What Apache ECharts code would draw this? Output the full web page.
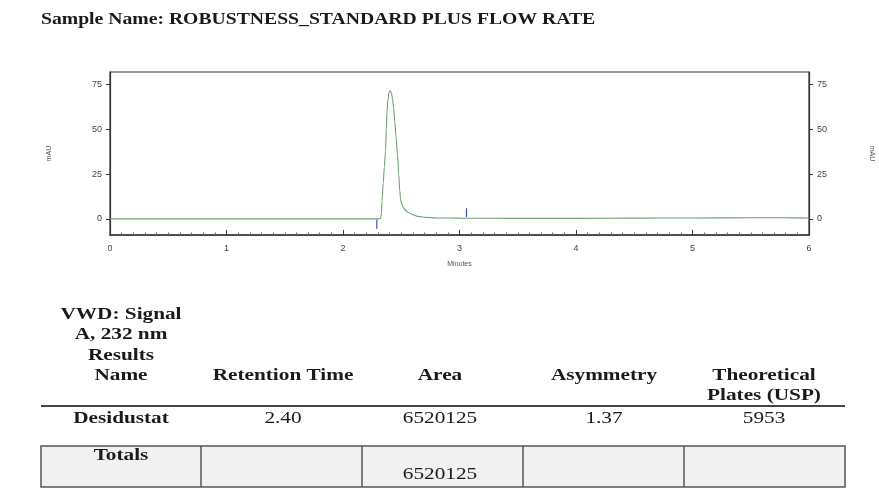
<!DOCTYPE html>
<html>
<head>
<meta charset="utf-8">
<script src="https://cdn.jsdelivr.net/npm/echarts@6/dist/echarts.min.js"></script>
<style>
html,body{margin:0;padding:0;background:#fff;}
#c{width:879px;height:496px;}
</style>
</head>
<body>
<div id="c"></div>
<script>
// ---- chromatogram data (minutes, mAU) ----
const timeMin = [0, 0.5, 1.0, 1.5, 2.0, 2.25, 2.30, 2.322, 2.33, 2.335, 2.345, 2.355, 2.365, 2.372, 2.378, 2.386, 2.396, 2.405, 2.415, 2.425, 2.435, 2.445, 2.455, 2.468, 2.478, 2.487, 2.494, 2.505, 2.52, 2.54, 2.56, 2.60, 2.64, 2.70, 2.80, 3.0, 3.5, 4.0, 4.5, 5.0, 5.5, 5.8, 6.0];
const signalMAU = [0, 0, 0, 0, 0, 0, 0, 0.2, 3, 10, 20, 29, 38, 50, 60, 67, 70.8, 71.5, 70.5, 67, 61.6, 54, 46, 36, 25, 16, 11, 8, 6, 4.6, 3.6, 2.3, 1.4, 0.9, 0.5, 0.4, 0.3, 0.3, 0.4, 0.5, 0.6, 0.6, 0.5];
const eventTimes = [2.29, 3.06];
const eventLow = [-5.5, 1];
const eventHigh = [-0.5, 6];
const xTicks = [0, 1, 2, 3, 4, 5, 6];
const yTicks = [0, 25, 50, 75];

// ---- results table ----
const sampleName = 'Sample Name: ROBUSTNESS_STANDARD PLUS FLOW RATE';
const colHeaders = [['VWD: Signal', 'A, 232 nm', 'Results', 'Name'], ['Retention Time'], ['Area'], ['Asymmetry'], ['Theoretical', 'Plates (USP)']];
const peakNames = ['Desidustat'];
const retentionTimes = ['2.40'];
const areas = ['6520125'];
const asymmetries = ['1.37'];
const plates = ['5953'];
const totalsLabel = 'Totals';
const totalArea = '6520125';

const chart = echarts.init(document.getElementById('c'), null, {renderer: 'canvas'});

const serif = '"Liberation Serif", "Times New Roman", serif';
const sans = '"Liberation Sans", Arial, sans-serif';
const TXT = '#1a1a1a';
const SX = 1.25;

const colCenters = [121, 283, 440, 604, 764];
const colEdges = [41, 201, 362, 523, 684, 845];

const graphics = [];
function txt(x, y, s, opts) {
  opts = opts || {};
  graphics.push({
    type: 'text', x: x, y: y, scaleX: opts.sx || SX,
    style: {
      text: s, fill: TXT,
      font: (opts.bold === false ? '' : 'bold ') + (opts.size || 17) + 'px ' + serif,
      textAlign: opts.align || 'center', textVerticalAlign: 'middle'
    }
  });
}
// title
txt(41, 20, sampleName, {align: 'left', size: 16, sx: 1.23});
// headers (bottom-aligned)
const headBottom = 376;
colHeaders.forEach((lines, i) => {
  const n = lines.length;
  lines.forEach((l, j) => {
    let y;
    if (i === 4) y = headBottom + j * 20;
    else y = headBottom - (n - 1 - j) * 20.5;
    txt(colCenters[i], y, l);
  });
});
// header rule
graphics.push({type: 'line', shape: {x1: 41, y1: 406, x2: 845, y2: 406}, style: {stroke: '#444', lineWidth: 2}});
// data row
peakNames.forEach((nm, r) => {
  const y = 419 + r * 22;
  txt(colCenters[0], y, nm);
  txt(colCenters[1], y, retentionTimes[r], {bold: false});
  txt(colCenters[2], y, areas[r], {bold: false});
  txt(colCenters[3], y, asymmetries[r], {bold: false});
  txt(colCenters[4], y, plates[r], {bold: false});
});
// totals box
graphics.push({type: 'rect', shape: {x: 41, y: 446, width: 804, height: 41}, style: {fill: '#f1f1f1', stroke: '#555', lineWidth: 1.5}});
for (let i = 1; i < colEdges.length - 1; i++) {
  graphics.push({type: 'line', shape: {x1: colEdges[i], y1: 446, x2: colEdges[i], y2: 487}, style: {stroke: '#555', lineWidth: 1.5}});
}
txt(colCenters[0], 456, totalsLabel);
txt(colCenters[2], 475, totalArea, {bold: false});

const signalData = timeMin.map((t, i) => [t, signalMAU[i]]);
const eventSeries = eventTimes.map((t, i) => ({
  type: 'line', data: [[t, eventLow[i]], [t, eventHigh[i]]],
  symbol: 'none', silent: true, lineStyle: {color: '#3a4fb8', width: 1.2}, z: 3
}));

const yAxisCommon = {
  type: 'value', min: -9, max: 82,
  axisLine: {show: true, lineStyle: {color: '#333', width: 1.2}},
  axisTick: {show: true, length: 4, customValues: yTicks, lineStyle: {color: '#333'}},
  axisLabel: {customValues: yTicks, fontSize: 9, color: '#444', fontFamily: sans, margin: 8},
  minorTick: {show: false},
  splitLine: {show: false},
  name: 'mAU', nameLocation: 'middle',
  nameTextStyle: {fontSize: 7, color: '#555', fontFamily: sans}
};

chart.setOption({
  animation: false,
  backgroundColor: '#fff',
  grid: {left: 110, right: 70, top: 72, bottom: 261, show: true, borderColor: '#333', borderWidth: 1.2, outerBoundsMode: 'none', containLabel: false},
  xAxis: {
    type: 'value', min: 0, max: 6, interval: 1,
    axisLine: {show: true, onZero: false, lineStyle: {color: '#333', width: 1.5}},
    axisTick: {show: true, inside: true, length: 5, lineStyle: {color: '#333'}},
    minorTick: {show: true, splitNumber: 10, length: 2.5, lineStyle: {color: '#666'}},
    axisLabel: {fontSize: 9, color: '#444', fontFamily: sans, margin: 9},
    splitLine: {show: false},
    name: 'Minutes', nameLocation: 'middle', nameGap: 26,
    nameTextStyle: {fontSize: 7, color: '#555', fontFamily: sans}
  },
  yAxis: [
    Object.assign({}, yAxisCommon, {position: 'left', nameGap: 57, nameRotate: 90}),
    Object.assign({}, yAxisCommon, {position: 'right', nameGap: 59, nameRotate: -90})
  ],
  series: [{
    type: 'line', data: signalData, symbol: 'none', smooth: 0.3, smoothMonotone: 'x',
    lineStyle: {color: '#6f9f72', width: 1.1}, z: 4
  }].concat(eventSeries),
  graphic: graphics
});
</script>
</body>
</html>
